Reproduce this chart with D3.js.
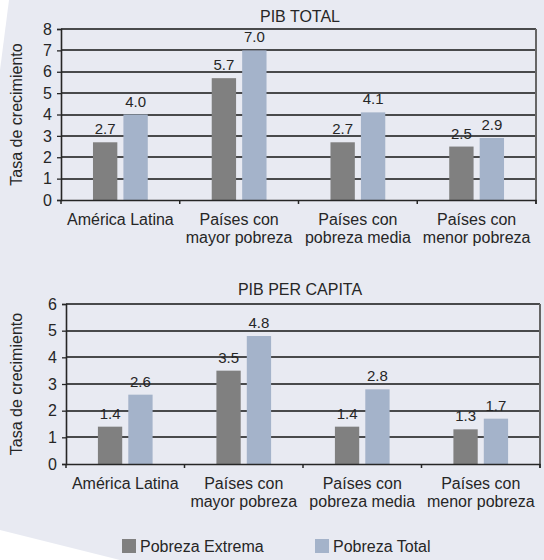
<!DOCTYPE html>
<html>
<head>
<meta charset="utf-8">
<script src="https://cdn.jsdelivr.net/npm/d3@7"></script>
<style>
  html, body { margin: 0; padding: 0; background: #e8eaf2; }
  svg { display: block; font-family: "Liberation Sans", Arial, sans-serif; }
</style>
</head>
<body>
<svg id="chart" width="544" height="560"></svg>
<script>
// Growth rates by group of countries
const categories = [
  ["América Latina"],
  ["Países con", "mayor pobreza"],
  ["Países con", "pobreza media"],
  ["Países con", "menor pobreza"]
];
const seriesNames = ["Pobreza Extrema", "Pobreza Total"];
const seriesColors = ["#808080", "#a4b3ca"];

const pibTotalExtrema = [2.7, 5.7, 2.7, 2.5];
const pibTotalTotal = [4.0, 7.0, 4.1, 2.9];
const pibPcExtrema = [1.4, 3.5, 1.4, 1.3];
const pibPcTotal = [2.6, 4.8, 2.8, 1.7];

const pibTotalTicks = [0, 1, 2, 3, 4, 5, 6, 7, 8];
const pibPcTicks = [0, 1, 2, 3, 4, 5, 6];

const svg = d3.select("#chart");
const W = 544, H = 560;
const ink = "#262626";

// background with pale corner wedges
svg.append("rect").attr("width", W).attr("height", H).attr("fill", "#e8eaf2");
svg.append("polygon").attr("points", "0,0 9,0 0,70").attr("fill", "#ffffff");
svg.append("polygon").attr("points", "0,530 120,560 0,560").attr("fill", "#ffffff");

function panel(opts) {
  const { title, titleY, left, right, top, bottom, ticks, extrema, total } = opts;
  const g = svg.append("g");
  const y = d3.scaleLinear().domain([0, d3.max(ticks)]).range([bottom, top]);
  const x0 = d3.scaleBand().domain(d3.range(categories.length)).range([left, right]).padding(0);
  const x1 = d3.scaleBand().domain([0, 1]).range([0, x0.bandwidth()]).paddingInner(0.2).paddingOuter(1.05);

  // title
  g.append("text").attr("x", 300).attr("y", titleY).attr("text-anchor", "middle")
    .attr("font-size", 16).attr("fill", ink).text(title);

  // horizontal gridlines
  g.append("g").selectAll("line").data(ticks.filter(t => t > 0)).join("line")
    .attr("x1", left).attr("x2", right)
    .attr("y1", d => Math.round(y(d))).attr("y2", d => Math.round(y(d)))
    .attr("stroke", "#141414").attr("stroke-width", 1.6);

  // right border
  g.append("line").attr("x1", right).attr("x2", right).attr("y1", top).attr("y2", bottom + 4)
    .attr("stroke", "#666").attr("stroke-width", 2);

  // bars
  const rows = categories.map((c, i) => [extrema[i], total[i]]);
  const grp = g.append("g").selectAll("g").data(rows).join("g")
    .attr("transform", (d, i) => `translate(${x0(i)},0)`);
  grp.selectAll("rect").data(d => d).join("rect")
    .attr("x", (d, j) => x1(j)).attr("width", x1.bandwidth())
    .attr("y", d => y(d)).attr("height", d => y(0) - y(d))
    .attr("fill", (d, j) => seriesColors[j]);
  grp.selectAll("text").data(d => d).join("text")
    .attr("x", (d, j) => x1(j) + x1.bandwidth() / 2).attr("y", d => y(d) - 8)
    .attr("text-anchor", "middle").attr("font-size", 15).attr("fill", ink)
    .text(d => d.toFixed(1));

  // y axis
  const yAxis = g.append("g").attr("transform", `translate(${left},0)`)
    .call(d3.axisLeft(y).tickValues(ticks).tickSize(4).tickPadding(5).tickFormat(d3.format("d")));
  yAxis.select(".domain").attr("stroke", ink).attr("stroke-width", 1.6);
  yAxis.selectAll(".tick line").attr("stroke", ink).attr("stroke-width", 1.3);
  yAxis.selectAll("text").attr("font-size", 16).attr("fill", ink)
    .attr("font-family", "Liberation Sans, Arial, sans-serif");

  // x axis
  const xAxis = g.append("g").attr("transform", `translate(0,${bottom})`)
    .call(d3.axisBottom(x0).tickSize(0).tickFormat(() => ""));
  xAxis.select(".domain").attr("stroke", ink).attr("stroke-width", 1.6);
  g.append("g").selectAll("line").data(d3.range(categories.length + 1)).join("line")
    .attr("x1", i => left + i * x0.bandwidth()).attr("x2", i => left + i * x0.bandwidth())
    .attr("y1", bottom).attr("y2", bottom + 4).attr("stroke", ink).attr("stroke-width", 1.5);

  // category labels
  const lbl = g.append("g").selectAll("text").data(categories).join("text")
    .attr("x", (d, i) => x0(i) + x0.bandwidth() / 2).attr("y", bottom + 25)
    .attr("text-anchor", "middle").attr("font-size", 16).attr("fill", ink);
  lbl.selectAll("tspan").data(d => d).join("tspan")
    .attr("x", function () { return this.parentNode.getAttribute("x"); })
    .attr("dy", (d, k) => k === 0 ? 0 : 18).text(d => d);

  // y axis title
  g.append("text")
    .attr("transform", `translate(22,${(top + bottom) / 2}) rotate(-90)`)
    .attr("text-anchor", "middle").attr("font-size", 16).attr("fill", ink)
    .text("Tasa de crecimiento");
}

panel({ title: "PIB TOTAL", titleY: 22, left: 61, right: 536, top: 29, bottom: 200,
  ticks: pibTotalTicks, extrema: pibTotalExtrema, total: pibTotalTotal });
panel({ title: "PIB PER CAPITA", titleY: 295, left: 66, right: 540, top: 304, bottom: 464,
  ticks: pibPcTicks, extrema: pibPcExtrema, total: pibPcTotal });

// legend
const legendX = [122, 315];
const lg = svg.append("g").selectAll("g").data(seriesNames).join("g")
  .attr("transform", (d, i) => `translate(${legendX[i]},539)`);
lg.append("rect").attr("width", 14).attr("height", 14).attr("fill", (d, i) => seriesColors[i]);
lg.append("text").attr("x", 18).attr("y", 13).attr("font-size", 16).attr("fill", ink).text(d => d);
</script>
</body>
</html>
